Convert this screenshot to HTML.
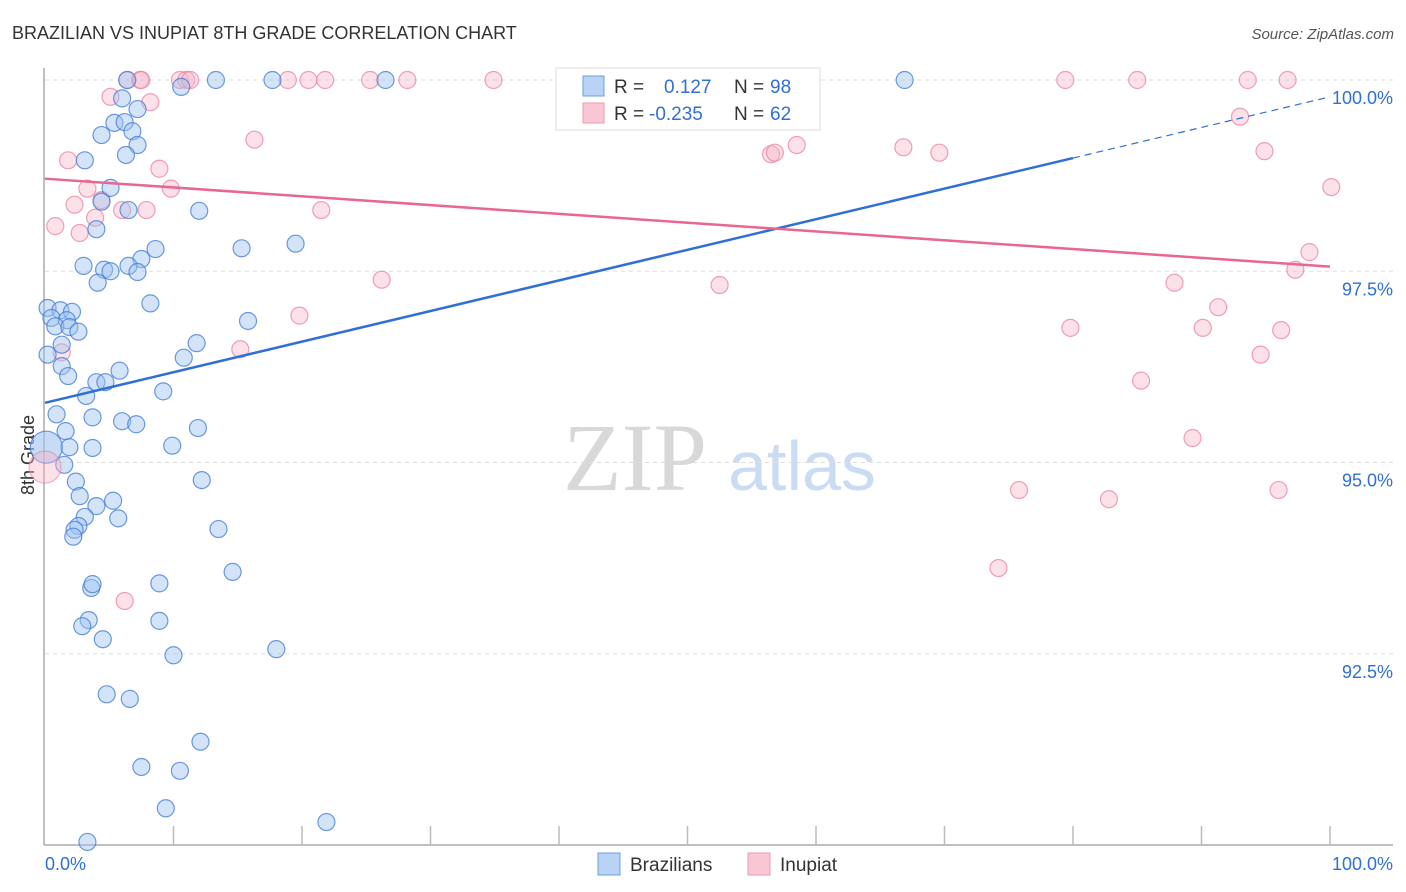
<!DOCTYPE html>
<html><head><meta charset="utf-8"><style>
body{margin:0;background:#fff;font-family:"Liberation Sans",sans-serif}
svg{display:block}
</style></head><body>
<svg id="chart" width="1406" height="892">
<text x="12" y="39" font-size="18" fill="#333">BRAZILIAN VS INUPIAT 8TH GRADE CORRELATION CHART</text>
<text x="1394" y="39" font-size="15" fill="#555" font-style="italic" text-anchor="end">Source: ZipAtlas.com</text>
<text x="34" y="455" font-size="18" fill="#333" transform="rotate(-90 34 455)" text-anchor="middle">8th Grade</text>
<text x="635" y="490" font-size="96" fill="#d8d8d8" font-family="Liberation Serif,serif" text-anchor="middle">ZIP</text>
<text x="802" y="490" font-size="70" fill="#c9dcf3" text-anchor="middle">atlas</text>
<g id="grid"></g><g id="axes"></g><g id="pts"></g><g id="trends"></g>
<g>
<rect x="556" y="68" width="264" height="62" fill="#fff" stroke="#ddd"/>
<rect x="583" y="76" width="21" height="20" fill="#b9d3f5" stroke="#6d9de0"/>
<rect x="583" y="103" width="21" height="20" fill="#f9c6d4" stroke="#ec9ab3"/>
<text x="614" y="93" font-size="19" fill="#333">R = <tspan x="664" fill="#2f6fd6">0.127</tspan><tspan x="734" fill="#333">N = </tspan><tspan x="770" fill="#2f6fd6">98</tspan></text>
<text x="614" y="120" font-size="19" fill="#333">R = <tspan x="649" fill="#2f6fd6">-0.235</tspan><tspan x="734" fill="#333">N = </tspan><tspan x="770" fill="#2f6fd6">62</tspan></text>
</g>
<g>
<rect x="598" y="853" width="22" height="22" fill="#b9d3f5" stroke="#6d9de0"/>
<text x="630" y="871" font-size="19" fill="#333">Brazilians</text>
<rect x="748" y="853" width="22" height="22" fill="#f9c6d4" stroke="#ec9ab3"/>
<text x="780" y="871" font-size="19" fill="#333">Inupiat</text>
</g>
</svg>
<script>
const yTicks=[100,97.5,95,92.5];
const yTickLabels=["100.0%","97.5%","95.0%","92.5%"];
const xTickLabels=["0.0%","100.0%"];
const blueX=[6.4,13.3,17.7,26.5,66.9,10.6,6.0,7.2,4.4,5.4,6.2,6.8,7.2,6.3,3.1,5.1,4.4,6.5,12.0,4.0,8.6,15.3,19.5,7.5,3.0,4.6,6.5,5.1,7.2,4.1,8.2,0.2,1.2,2.1,0.5,1.7,0.8,1.9,2.6,15.8,1.3,11.8,10.8,0.2,1.3,5.8,1.8,4.0,4.7,9.2,3.2,0.9,3.7,6.0,7.1,1.6,11.9,1.9,3.7,9.9,1.5,2.4,12.2,2.7,5.3,4.0,3.1,5.7,2.6,2.3,2.2,13.5,14.6,8.9,3.6,3.7,3.4,2.9,8.9,4.5,10.0,18.0,4.8,6.6,12.1,7.5,10.5,9.4,21.9,3.3];
const blueY=[100,100,100,100,100,99.91,99.76,99.62,99.28,99.44,99.45,99.33,99.15,99.02,98.95,98.59,98.41,98.30,98.29,98.05,97.79,97.80,97.86,97.66,97.57,97.52,97.57,97.50,97.49,97.35,97.08,97.02,96.99,96.97,96.89,96.86,96.78,96.77,96.71,96.85,96.54,96.56,96.37,96.41,96.26,96.20,96.13,96.05,96.05,95.93,95.87,95.63,95.59,95.54,95.50,95.41,95.45,95.20,95.19,95.22,94.97,94.75,94.77,94.56,94.50,94.43,94.29,94.27,94.17,94.12,94.03,94.13,93.57,93.42,93.36,93.41,92.94,92.86,92.93,92.69,92.48,92.56,91.97,91.91,91.35,91.02,90.97,90.48,90.30,90.04];
const pinkX=[6.4,7.4,7.5,10.5,11.0,11.3,18.9,20.5,21.8,25.3,28.2,34.9,47.2,50.0,79.4,85.0,93.6,96.7,5.1,8.2,16.3,1.8,8.9,9.8,3.3,2.3,4.4,6.0,7.9,21.5,3.9,0.8,2.7,26.2,19.8,15.2,1.3,6.2,56.5,56.8,58.5,66.8,69.6,93.0,94.9,100.1,98.4,97.3,87.9,91.3,79.8,90.1,96.2,94.6,85.3,89.3,75.8,82.8,96.0,74.2,52.5];
const pinkY=[100,100,100,100,100,100,100,100,100,100,100,100,100,100,100,100,100,100,99.78,99.71,99.22,98.95,98.84,98.58,98.58,98.37,98.43,98.30,98.30,98.30,98.20,98.09,98.00,97.39,96.92,96.48,96.44,93.19,99.03,99.05,99.15,99.12,99.05,99.52,99.07,98.60,97.75,97.52,97.35,97.03,96.76,96.76,96.73,96.41,96.07,95.32,94.64,94.52,94.64,93.62,97.32];
const bigBlue=[0.1,95.2];
const bigPink=[0.0,94.94];
const blueTrend=[95.78,99.78];
const pinkTrend=[98.71,97.56];
const sx=v=>45+v*12.85;
const sy=v=>80+(100-v)*76.5;
const NS="http://www.w3.org/2000/svg";
function mk(tag,attrs,parent){const e=document.createElementNS(NS,tag);for(const k in attrs)e.setAttribute(k,attrs[k]);document.getElementById(parent).appendChild(e);return e;}
yTicks.forEach((t,i)=>{
 const g=mk('line',{x1:45,x2:1393,y1:sy(t),y2:sy(t),stroke:'#ddd','stroke-dasharray':'4,4'},'grid');
 
 
 const l=mk('text',{x:1393,y:sy(t)+24,'font-size':18,fill:'#2f6fd6','text-anchor':'end'},'grid');
 l.textContent=yTickLabels[i];
 
 
});
const ax=mk('line',{x1:44,x2:44,y1:68,y2:845,stroke:'#aaa','stroke-width':1.5},'axes');


const bx=mk('line',{x1:44,x2:1393,y1:845,y2:845,stroke:'#aaa','stroke-width':1.5},'axes');


for(let i=1;i<=10;i++){
 const t=mk('line',{x1:sx(i*10),x2:sx(i*10),y1:826,y2:845,stroke:'#bbb','stroke-width':1.5},'axes');
 
 
}
const xl0=mk('text',{x:45,y:870,'font-size':18,fill:'#2f6fd6'},'axes');xl0.textContent=xTickLabels[0];


const xl1=mk('text',{x:1393,y:870,'font-size':18,fill:'#2f6fd6','text-anchor':'end'},'axes');xl1.textContent=xTickLabels[1];


function dot(x,y,r,fill,stroke,name){
 const c=mk('circle',{cx:sx(x),cy:sy(y),r:r,fill:fill,stroke:stroke,'stroke-width':1.2},'pts');
 
 
}
pinkX.forEach((x,i)=>dot(x,pinkY[i],8.5,'rgba(247,180,200,0.4)','rgba(232,130,160,0.75)','inupiat-point'));
blueX.forEach((x,i)=>dot(x,blueY[i],8.5,'rgba(160,195,240,0.45)','rgba(60,120,215,0.75)','brazilian-point'));
dot(bigBlue[0],bigBlue[1],16,'rgba(160,195,240,0.6)','rgba(60,120,215,0.75)','brazilian-point-large');
dot(bigPink[0],bigPink[1],16,'rgba(247,180,200,0.4)','rgba(232,130,160,0.6)','inupiat-point-large');
const by=x=>blueTrend[0]+(blueTrend[1]-blueTrend[0])*x/100;
const py=x=>pinkTrend[0]+(pinkTrend[1]-pinkTrend[0])*x/100;
const b1=mk('line',{x1:sx(0),y1:sy(by(0)),x2:sx(80),y2:sy(by(80)),stroke:'#2f6fd6','stroke-width':2.5},'trends');


const b2=mk('line',{x1:sx(80),y1:sy(by(80)),x2:sx(100),y2:sy(by(100)),stroke:'#2f6fd6','stroke-width':1.2,'stroke-dasharray':'7,5'},'trends');


const p1=mk('line',{x1:sx(0),y1:sy(py(0)),x2:sx(100),y2:sy(py(100)),stroke:'#e8668f','stroke-width':2.5},'trends');


</script>
</body></html>
